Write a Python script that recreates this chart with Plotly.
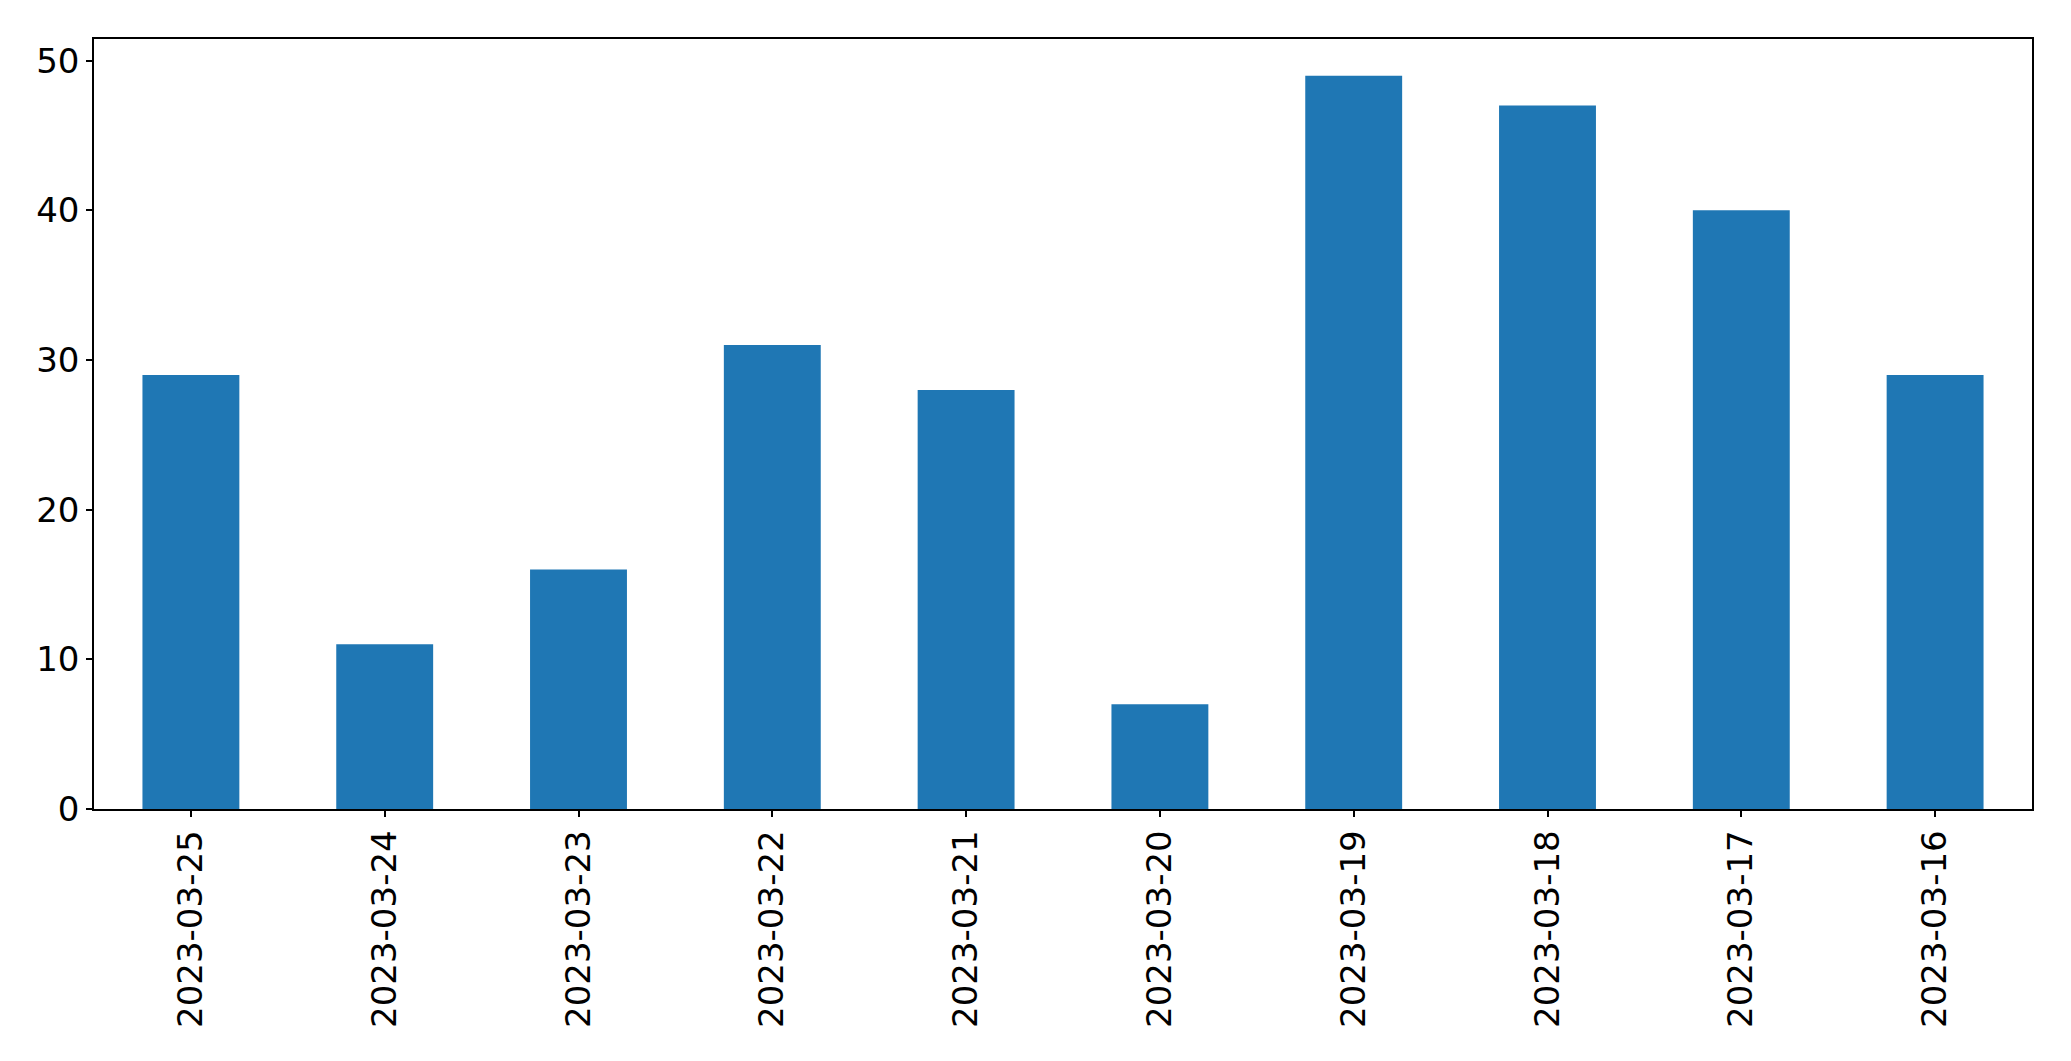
import plotly.graph_objects as go

dates = ["2023-03-25", "2023-03-24", "2023-03-23", "2023-03-22", "2023-03-21",
         "2023-03-20", "2023-03-19", "2023-03-18", "2023-03-17", "2023-03-16"]
counts = [29, 11, 16, 31, 28, 7, 49, 47, 40, 29]
y_ticks = [0, 10, 20, 30, 40, 50]

fig = go.Figure(go.Bar(x=dates, y=counts, marker=dict(color="#1f77b4", line=dict(width=0)), width=0.5))

fig.update_layout(
    width=2063, height=1053,
    margin=dict(l=86, r=39, t=31, b=252, autoexpand=False),
    paper_bgcolor="white", plot_bgcolor="white",
    font=dict(family="DejaVu Sans", size=34, color="black"),
    showlegend=False,
)
fig.update_xaxes(
    type="category", range=[-0.5, 9.5], tickangle=-90,
    showline=True, linecolor="black", linewidth=1.5, mirror=True,
    ticks="outside", ticklen=6, tickwidth=1.5, tickcolor="black",
    showgrid=False, zeroline=False, automargin=False,
)
fig.update_yaxes(
    range=[0, 51.45], tickvals=y_ticks,
    showline=True, linecolor="black", linewidth=1.5, mirror=True,
    ticks="outside", ticklen=6, tickwidth=1.5, tickcolor="black",
    showgrid=False, zeroline=False, automargin=False,
)

fig.write_html("out.html")
